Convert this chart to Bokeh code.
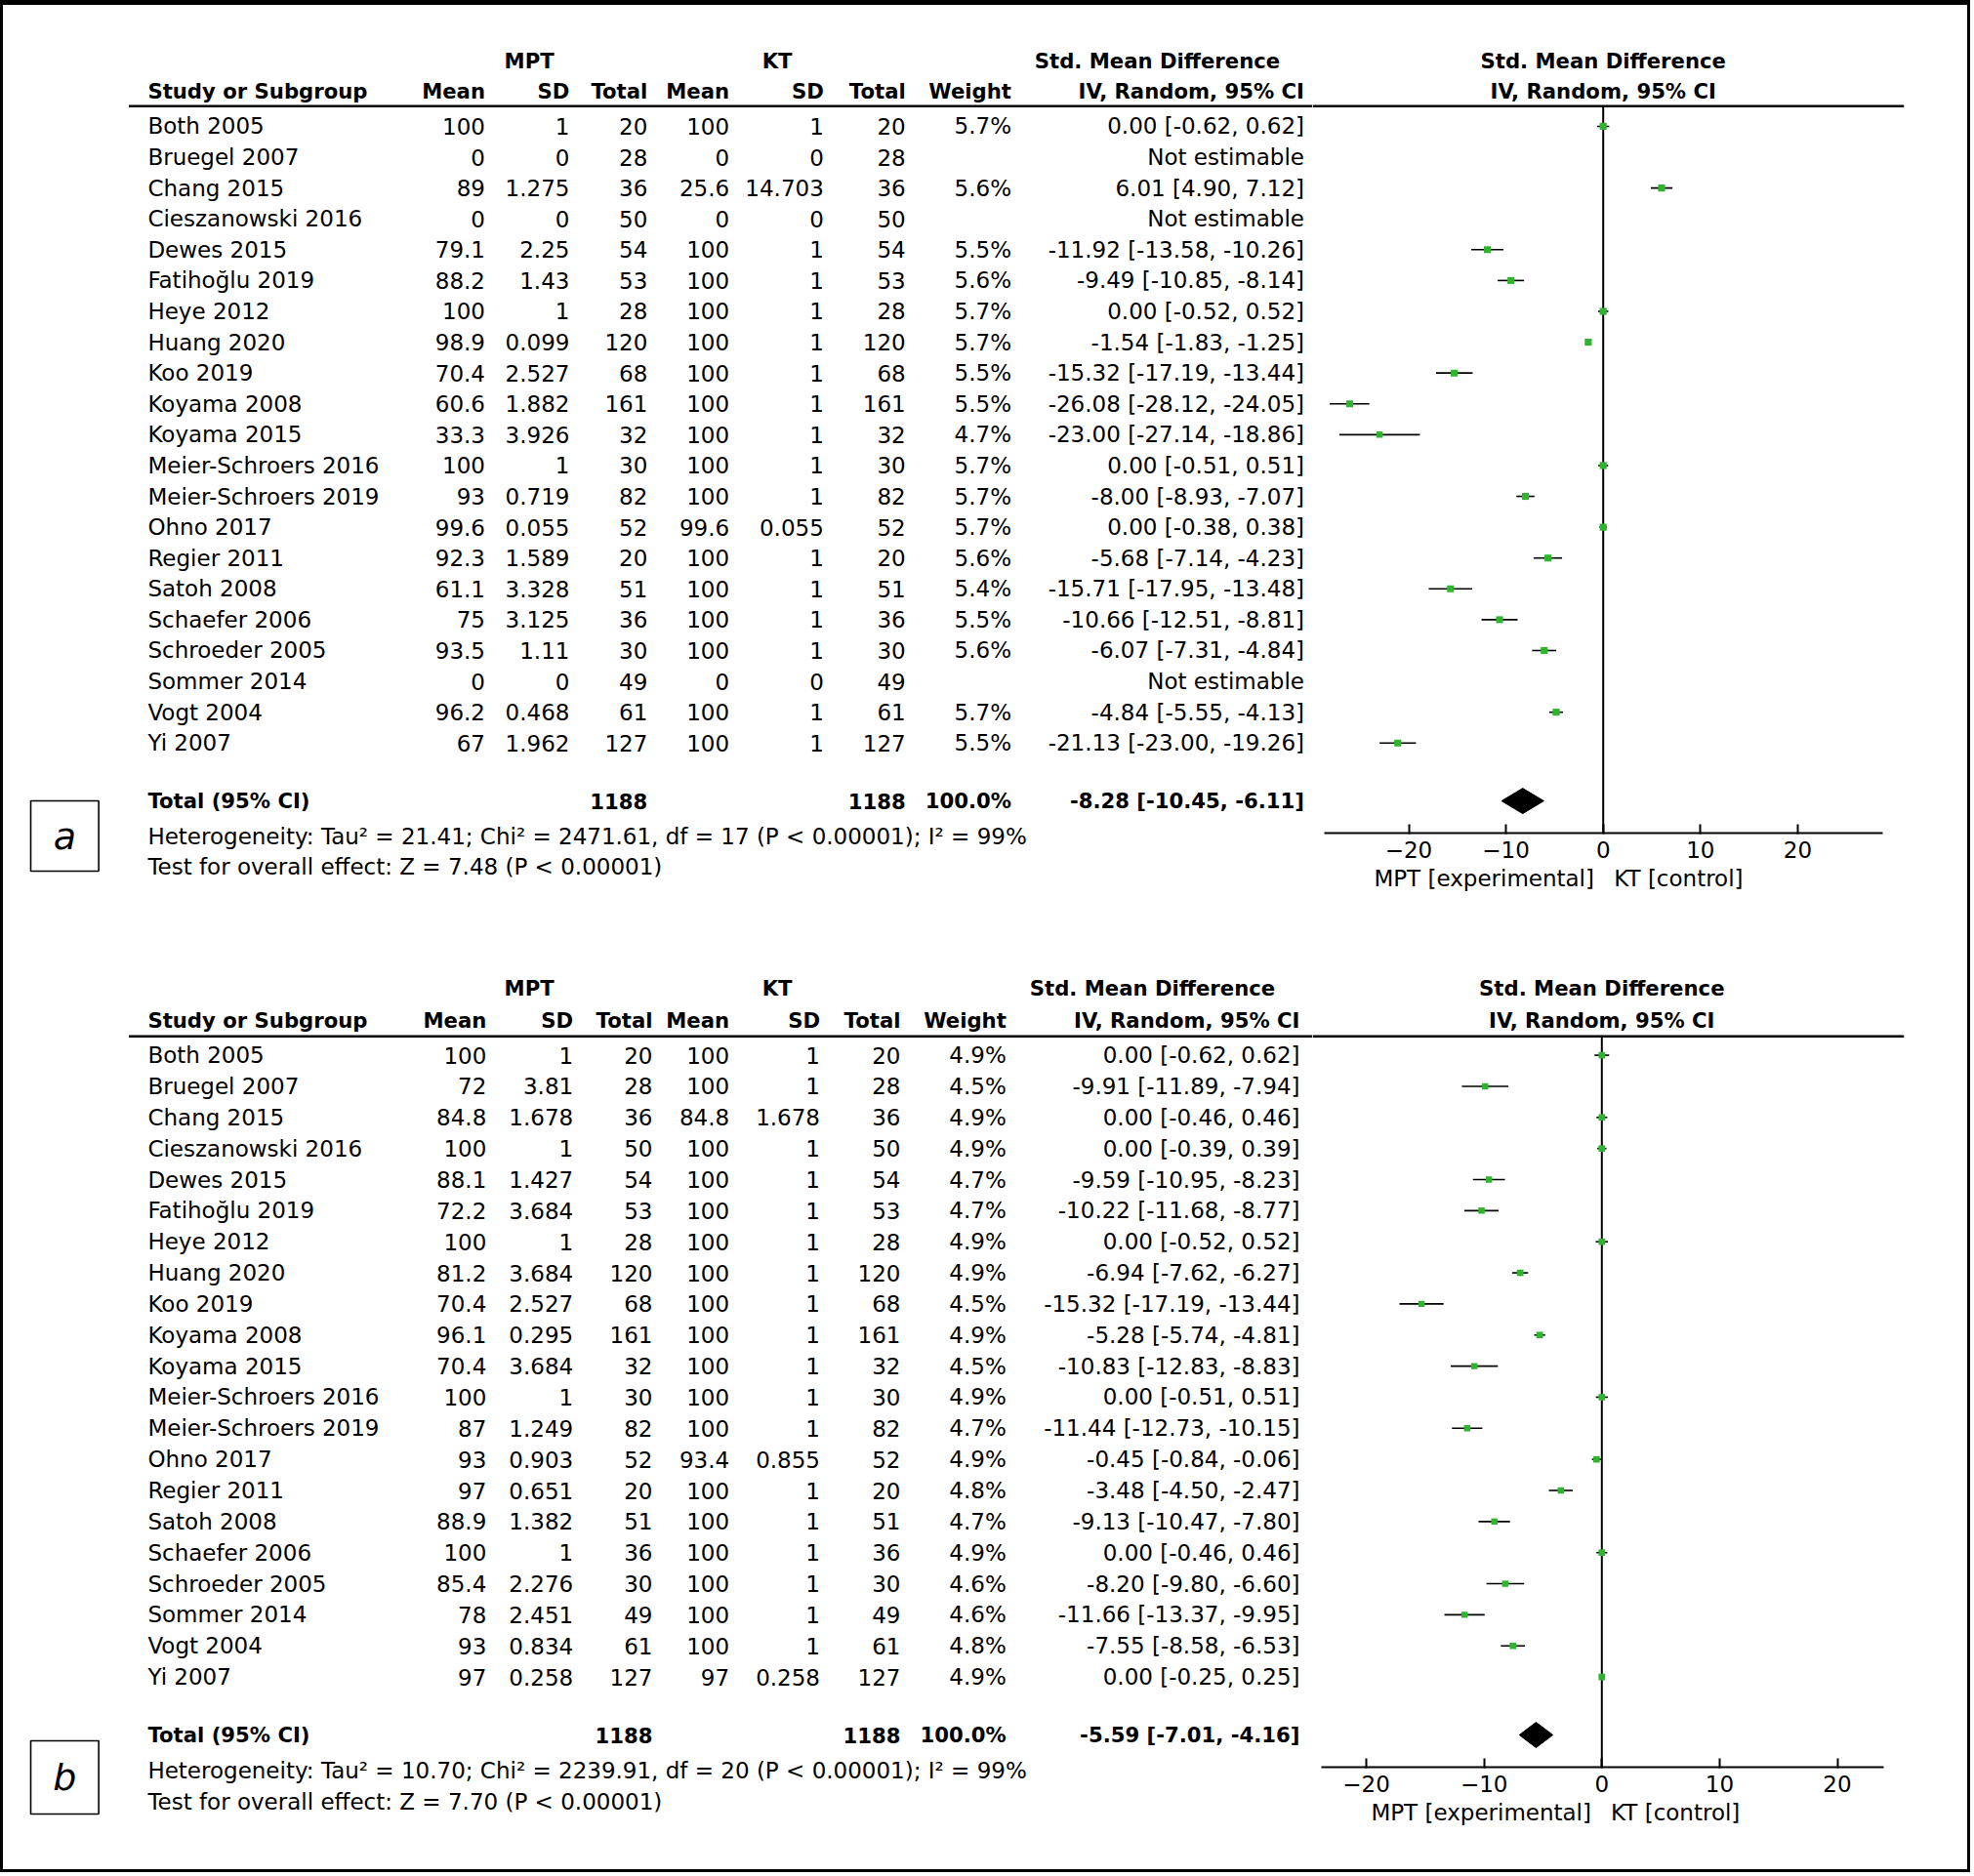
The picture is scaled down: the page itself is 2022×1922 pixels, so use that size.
from bokeh.plotting import figure
from bokeh.layouts import row, column
from bokeh.models import Range1d, Span, FixedTicker, LinearAxis
from bokeh.core.properties import value
from bokeh.embed import file_html
from bokeh.resources import INLINE

NAN = float("nan")

# ---------------- data ----------------
studies = ["Both 2005", "Bruegel 2007", "Chang 2015", "Cieszanowski 2016", "Dewes 2015",
           "Fatihoğlu 2019", "Heye 2012", "Huang 2020", "Koo 2019", "Koyama 2008",
           "Koyama 2015", "Meier-Schroers 2016", "Meier-Schroers 2019", "Ohno 2017",
           "Regier 2011", "Satoh 2008", "Schaefer 2006", "Schroeder 2005", "Sommer 2014",
           "Vogt 2004", "Yi 2007"]

# panel a
a_mpt_mean = [100, 0, 89, 0, 79.1, 88.2, 100, 98.9, 70.4, 60.6, 33.3, 100, 93, 99.6, 92.3, 61.1, 75, 93.5, 0, 96.2, 67]
a_mpt_sd = [1, 0, 1.275, 0, 2.25, 1.43, 1, 0.099, 2.527, 1.882, 3.926, 1, 0.719, 0.055, 1.589, 3.328, 3.125, 1.11, 0, 0.468, 1.962]
a_mpt_n = [20, 28, 36, 50, 54, 53, 28, 120, 68, 161, 32, 30, 82, 52, 20, 51, 36, 30, 49, 61, 127]
a_kt_mean = [100, 0, 25.6, 0, 100, 100, 100, 100, 100, 100, 100, 100, 100, 99.6, 100, 100, 100, 100, 0, 100, 100]
a_kt_sd = [1, 0, 14.703, 0, 1, 1, 1, 1, 1, 1, 1, 1, 1, 0.055, 1, 1, 1, 1, 0, 1, 1]
a_kt_n = [20, 28, 36, 50, 54, 53, 28, 120, 68, 161, 32, 30, 82, 52, 20, 51, 36, 30, 49, 61, 127]
a_weight = [5.7, None, 5.6, None, 5.5, 5.6, 5.7, 5.7, 5.5, 5.5, 4.7, 5.7, 5.7, 5.7, 5.6, 5.4, 5.5, 5.6, None, 5.7, 5.5]
a_smd = [0.00, None, 6.01, None, -11.92, -9.49, 0.00, -1.54, -15.32, -26.08, -23.00, 0.00, -8.00, 0.00, -5.68, -15.71, -10.66, -6.07, None, -4.84, -21.13]
a_lo = [-0.62, None, 4.90, None, -13.58, -10.85, -0.52, -1.83, -17.19, -28.12, -27.14, -0.51, -8.93, -0.38, -7.14, -17.95, -12.51, -7.31, None, -5.55, -23.00]
a_hi = [0.62, None, 7.12, None, -10.26, -8.14, 0.52, -1.25, -13.44, -24.05, -18.86, 0.51, -7.07, 0.38, -4.23, -13.48, -8.81, -4.84, None, -4.13, -19.26]
a_total = dict(n1=1188, n2=1188, weight=100.0, smd=-8.28, lo=-10.45, hi=-6.11)
a_het = "Heterogeneity: Tau² = 21.41; Chi² = 2471.61, df = 17 (P < 0.00001); I² = 99%"
a_test = "Test for overall effect: Z = 7.48 (P < 0.00001)"

# panel b
b_mpt_mean = [100, 72, 84.8, 100, 88.1, 72.2, 100, 81.2, 70.4, 96.1, 70.4, 100, 87, 93, 97, 88.9, 100, 85.4, 78, 93, 97]
b_mpt_sd = [1, 3.81, 1.678, 1, 1.427, 3.684, 1, 3.684, 2.527, 0.295, 3.684, 1, 1.249, 0.903, 0.651, 1.382, 1, 2.276, 2.451, 0.834, 0.258]
b_mpt_n = [20, 28, 36, 50, 54, 53, 28, 120, 68, 161, 32, 30, 82, 52, 20, 51, 36, 30, 49, 61, 127]
b_kt_mean = [100, 100, 84.8, 100, 100, 100, 100, 100, 100, 100, 100, 100, 100, 93.4, 100, 100, 100, 100, 100, 100, 97]
b_kt_sd = [1, 1, 1.678, 1, 1, 1, 1, 1, 1, 1, 1, 1, 1, 0.855, 1, 1, 1, 1, 1, 1, 0.258]
b_kt_n = [20, 28, 36, 50, 54, 53, 28, 120, 68, 161, 32, 30, 82, 52, 20, 51, 36, 30, 49, 61, 127]
b_weight = [4.9, 4.5, 4.9, 4.9, 4.7, 4.7, 4.9, 4.9, 4.5, 4.9, 4.5, 4.9, 4.7, 4.9, 4.8, 4.7, 4.9, 4.6, 4.6, 4.8, 4.9]
b_smd = [0.00, -9.91, 0.00, 0.00, -9.59, -10.22, 0.00, -6.94, -15.32, -5.28, -10.83, 0.00, -11.44, -0.45, -3.48, -9.13, 0.00, -8.20, -11.66, -7.55, 0.00]
b_lo = [-0.62, -11.89, -0.46, -0.39, -10.95, -11.68, -0.52, -7.62, -17.19, -5.74, -12.83, -0.51, -12.73, -0.84, -4.50, -10.47, -0.46, -9.80, -13.37, -8.58, -0.25]
b_hi = [0.62, -7.94, 0.46, 0.39, -8.23, -8.77, 0.52, -6.27, -13.44, -4.81, -8.83, 0.51, -10.15, -0.06, -2.47, -7.80, 0.46, -6.60, -9.95, -6.53, 0.25]
b_total = dict(n1=1188, n2=1188, weight=100.0, smd=-5.59, lo=-7.01, hi=-4.16)
b_het = "Heterogeneity: Tau² = 10.70; Chi² = 2239.91, df = 20 (P < 0.00001); I² = 99%"
b_test = "Test for overall effect: Z = 7.70 (P < 0.00001)"

tick_values = [-20, -10, 0, 10, 20]
tick_labels = ["−20", "−10", "0", "10", "20"]
favours_left = "MPT [experimental]"
favours_right = "KT [control]"

# ---------------- layout (reference pixel space) ----------------
FONT = "DejaVu Sans"
FS = "23px"
FSB = "21.2px"
X0, Y0 = 3, 5            # reference pixel at the top-left of the content box
W, H = 2012, 1910
SPLIT_X = 1344           # reference x where the forest figure starts
FRAME_R = 1950           # reference x of forest frame right edge
PANEL_SPLIT = 961        # reference y between the panels
WT = SPLIT_X - X0
WF = W - WT
HA = PANEL_SPLIT - Y0
HB = H - HA
GREEN = "#2db52d"


def fnum(v):
    return format(v, "g")


def ci_text(m, lo, hi):
    if m is None:
        return "Not estimable"
    return f"{m:.2f} [{lo:.2f}, {hi:.2f}]"


def txt(p, xs, ys, texts, align="left", bold=False, size=None, italic=False):
    style = "bold" if bold else ("italic" if italic else "normal")
    if size is None:
        size = FSB if bold else FS
    p.text(x=xs, y=ys, text=texts, text_align=align, text_baseline="middle",
           text_font=value(FONT), text_font_size=size, text_color="black",
           text_font_style=style)


def make_table(y_top, y_bot, height, cfg, d):
    p = figure(width=WT, height=height, x_range=Range1d(X0, SPLIT_X),
               y_range=Range1d(y_bot, y_top), output_backend="svg",
               toolbar_location=None, x_axis_location=None, y_axis_location=None,
               min_border=0, outline_line_color=None, frame_align=False)
    p.xgrid.visible = False
    p.ygrid.visible = False
    cx = cfg["cols"]
    n = len(studies)
    ys = [cfg["row0"] + cfg["step"] * i for i in range(n)]
    # headers
    txt(p, [cfg["mpt_c"], cfg["kt_c"], cfg["smd_c"]], [cfg["h1"]] * 3,
        ["MPT", "KT", "Std. Mean Difference"], align="center", bold=True)
    txt(p, [cfg["name_x"]], [cfg["h2"]], ["Study or Subgroup"], bold=True)
    txt(p, cx, [cfg["h2"]] * 8,
        ["Mean", "SD", "Total", "Mean", "SD", "Total", "Weight", "IV, Random, 95% CI"],
        align="right", bold=True)
    p.segment(x0=[cfg["line_x0"]], y0=[cfg["hline"]], x1=[SPLIT_X], y1=[cfg["hline"]],
              line_color="black", line_width=2.5)
    # rows
    txt(p, [cfg["name_x"]] * n, ys, studies)
    cols = [d["m1"], d["s1"], d["n1"], d["m2"], d["s2"], d["n2"]]
    for k, vals in enumerate(cols):
        txt(p, [cx[k]] * n, ys, [fnum(v) for v in vals], align="right")
    wt = [("" if w is None else f"{w:.1f}%") for w in d["w"]]
    txt(p, [cx[6]] * n, ys, wt, align="right")
    txt(p, [cx[7]] * n, ys, [ci_text(m, l, h) for m, l, h in zip(d["smd"], d["lo"], d["hi"])], align="right")
    # total
    t = d["total"]
    ty = cfg["total_y"]
    txt(p, [cfg["name_x"]], [ty], ["Total (95% CI)"], bold=True)
    txt(p, [cx[2], cx[5], cx[6], cx[7]], [ty] * 4,
        [str(t["n1"]), str(t["n2"]), f"{t['weight']:.1f}%", ci_text(t["smd"], t["lo"], t["hi"])],
        align="right", bold=True)
    txt(p, [cfg["name_x"]] * 2, [cfg["het_y"], cfg["test_y"]], [d["het"], d["test"]])
    # panel letter box
    bx = cfg["box"]
    p.quad(left=[bx[0]], right=[bx[1]], top=[bx[2]], bottom=[bx[3]], fill_color=None,
           line_color="black", line_width=1.6)
    txt(p, [(bx[0] + bx[1]) / 2], [(bx[2] + bx[3]) / 2], [cfg["letter"]], align="center",
        italic=True, size="38px")
    return p


def make_forest(y_top, height, cfg, d):
    axis_y = cfg["axis_y"]
    zero, ppu = cfg["zero"], cfg["ppu"]
    frame_w = FRAME_R - SPLIT_X
    frame_h = axis_y - y_top
    p = figure(width=WF, height=height,
               x_range=Range1d((SPLIT_X - zero) / ppu, (FRAME_R - zero) / ppu),
               y_range=Range1d(axis_y, y_top), output_backend="svg",
               toolbar_location=None, y_axis_location=None,
               min_border_left=0, min_border_top=0,
               min_border_right=WF - frame_w, min_border_bottom=height - frame_h,
               outline_line_color=None, frame_align=False)
    p.xgrid.visible = False
    p.ygrid.visible = False
    ax = p.xaxis[0]
    ax.ticker = FixedTicker(ticks=tick_values)
    ax.major_label_overrides = {v: l for v, l in zip(tick_values, tick_labels)}
    ax.bounds = cfg["bounds"]
    ax.axis_line_width = 2
    ax.axis_line_color = "black"
    ax.major_tick_line_width = 2
    ax.major_tick_line_color = "black"
    ax.major_tick_in = 9
    ax.major_tick_out = 1
    ax.minor_tick_line_color = None
    ax.major_label_standoff = 7
    ax.major_label_text_font = FONT
    ax.major_label_text_font_size = FS
    ax.major_label_text_color = "black"

    # favours labels as a second, line-less axis under the first one
    fl, fr = cfg["fav_pos"]
    ax2 = LinearAxis(ticker=FixedTicker(ticks=[fl, fr]),
                     major_label_overrides={fl: favours_left, fr: favours_right},
                     axis_line_color=None, major_tick_line_color=None,
                     minor_tick_line_color=None, major_label_standoff=cfg["fav_standoff"],
                     major_tick_in=0, major_tick_out=0,
                     major_label_text_font=FONT, major_label_text_font_size=FS,
                     major_label_text_color="black")
    p.add_layout(ax2, "below")

    # headers
    txt(p, [0, 0], [cfg["h1"], cfg["h2"]], ["Std. Mean Difference", "IV, Random, 95% CI"],
        align="center", bold=True)
    p.add_layout(Span(location=cfg["hline"], dimension="width", line_color="black", line_width=2.5))
    # null line
    p.segment(x0=[0], y0=[cfg["hline"]], x1=[0], y1=[axis_y], line_color="black", line_width=2)

    n = len(studies)
    ys = [cfg["row0"] + cfg["step"] * i for i in range(n)]
    smd = [NAN if v is None else v for v in d["smd"]]
    lo = [NAN if v is None else v for v in d["lo"]]
    hi = [NAN if v is None else v for v in d["hi"]]
    p.segment(x0=lo, y0=ys, x1=hi, y1=ys, line_color="black", line_width=1.6)
    sizes = [0 if w is None else 3.0 * (w ** 0.5) for w in d["w"]]
    p.scatter(x=smd, y=ys, size=sizes, marker="square", fill_color=GREEN, line_color=None)

    t = d["total"]
    ty = cfg["total_y"]
    hh = 13
    p.patch(x=[t["lo"], t["smd"], t["hi"], t["smd"]], y=[ty, ty - hh, ty, ty + hh],
            fill_color="black", line_color="black")
    return p


cfg_a = dict(row0=128.95, step=31.59, h1=61.9, h2=92.8, hline=108.3, total_y=820.1,
             het_y=856.2, test_y=887.2, name_x=150.9, line_x0=131.5,
             cols=[496.5, 582.9, 662.8, 746.6, 843.3, 927.2, 1035.5, 1335.5],
             mpt_c=541.6, kt_c=795.6, smd_c=1185, box=(31, 100.6, 820, 892), letter="a",
             axis_y=853, zero=1641.7, ppu=9.96, bounds=(-28.7, 28.7),
             fav_pos=(-12.25, 7.75), fav_standoff=5)
cfg_b = dict(row0=1080.6, step=31.85, h1=1012.3, h2=1044.5, hline=1061.3, total_y=1777,
             het_y=1813, test_y=1845.3, name_x=150.9, line_x0=131.5,
             cols=[497.8, 586.7, 668, 746.6, 839.5, 922, 1030.3, 1331],
             mpt_c=541.6, kt_c=795.6, smd_c=1180, box=(31, 100.6, 1783, 1858), letter="b",
             axis_y=1810, zero=1640.3, ppu=12.06, bounds=(-23.85, 23.9),
             fav_pos=(-10.25, 6.25), fav_standoff=5)

data_a = dict(m1=a_mpt_mean, s1=a_mpt_sd, n1=a_mpt_n, m2=a_kt_mean, s2=a_kt_sd, n2=a_kt_n,
              w=a_weight, smd=a_smd, lo=a_lo, hi=a_hi, total=a_total, het=a_het, test=a_test)
data_b = dict(m1=b_mpt_mean, s1=b_mpt_sd, n1=b_mpt_n, m2=b_kt_mean, s2=b_kt_sd, n2=b_kt_n,
              w=b_weight, smd=b_smd, lo=b_lo, hi=b_hi, total=b_total, het=b_het, test=b_test)

tA = make_table(Y0, PANEL_SPLIT, HA, cfg_a, data_a)
fA = make_forest(Y0, HA, cfg_a, data_a)
tB = make_table(PANEL_SPLIT, Y0 + H, HB, cfg_b, data_b)
fB = make_forest(PANEL_SPLIT, HB, cfg_b, data_b)

layout = column(row(tA, fA), row(tB, fB),
                styles={"border": "3px solid black", "border-top": "5px solid black"})

open("out.html", "w").write(file_html(layout, INLINE))
